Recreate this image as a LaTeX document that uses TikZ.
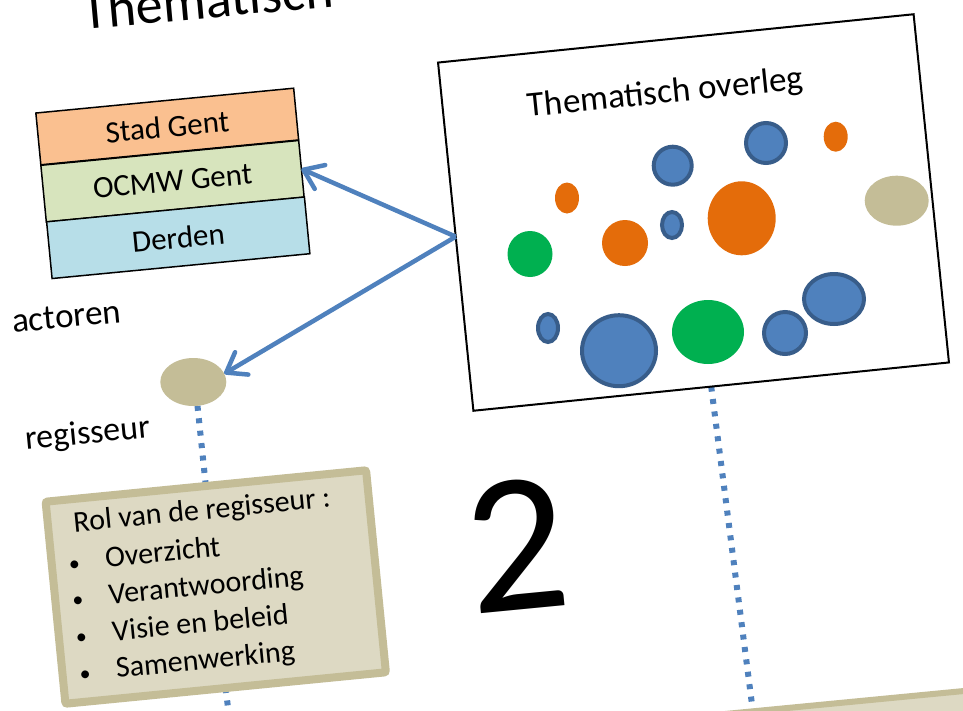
\documentclass[tikz,border=0pt]{standalone}
\usepackage{fontspec}
\setmainfont{Carlito}
\usetikzlibrary{shapes.geometric,arrows.meta,calc}
\pgfdeclarelayer{bg}
\pgfsetlayers{bg,main}
\definecolor{bfill}{HTML}{4F81BD}
\definecolor{bline}{HTML}{385D8A}
\definecolor{orng}{HTML}{E46C0A}
\definecolor{grn}{HTML}{00B050}
\definecolor{beige}{HTML}{C4BD97}
\definecolor{beigelt}{HTML}{DDD9C3}
\definecolor{stadc}{HTML}{FAC090}
\definecolor{ocmwc}{HTML}{D7E4BD}
\definecolor{derdc}{HTML}{B7DEE8}
\newcommand{\myfs}[1]{\fontsize{#1}{#1}\selectfont}
\begin{document}
\begin{tikzpicture}[x=1pt,y=-1pt,
  rowbox/.style={draw=black, line width=1.5pt, rotate=5.5, minimum width=259pt, inner sep=0pt, outer sep=0pt, font=\myfs{31}},
  bluec/.style={fill=bfill, draw=bline, line width=4pt},
  arr/.style={draw=bfill, line width=4.5pt, -{Straight Barb[round,length=18pt,width=26pt]}},
  dotline/.style={draw=bfill, line width=6pt, dash pattern=on 5pt off 7.5pt},
  lbl/.style={anchor=base, inner sep=0pt, outer sep=0pt},
  bul/.style={anchor=base, inner sep=0pt, outer sep=0pt, font=\myfs{22}}]
\begin{pgfonlayer}{bg}
\fill[white] (0,0) rectangle (963,710);
\end{pgfonlayer}
\useasboundingbox (0,0) rectangle (963,710);

% title (cut at top)
\node[anchor=base west, rotate=5.2, font=\myfs{54}, inner sep=0pt] (title) at (83,29.5) {Thematisch};

% stack of actors
\node[rowbox, fill=stadc, minimum height=52pt] (stad) at (167.25,126.5) {Stad Gent};
\node[rowbox, fill=ocmwc, minimum height=57pt] (ocmw) at (172.5,181.25) {OCMW Gent};
\node[rowbox, fill=derdc, minimum height=57pt] (derden) at (178.25,237.75) {Derden};

\node[lbl, rotate=5.5, font=\myfs{35}] (act) at (67.5,327.5) {actoren};
\node[lbl, rotate=5.5, font=\myfs{34}] (regt) at (89,443.5) {regisseur};

% regisseur ellipse
\node[ellipse, fill=beige, minimum width=66pt, minimum height=48pt, inner sep=0pt, outer sep=0pt] (reg) at (193.3,382) {};

% thematic box
\node[draw=black, line width=2pt, rotate=5.8, minimum width=478pt, minimum height=350pt, inner sep=0pt, outer sep=0pt] (thema) at (693.5,212.5) {};
\node[lbl, rotate=5.8, font=\myfs{35}] (ttl) at (666.5,103) {Thematisch overleg};

\filldraw[bluec] (672.7,165.7) circle[radius=19];
\filldraw[bluec] (766,143) circle[radius=20];
\fill[orng] (835.7,136.7) ellipse[x radius=12, y radius=15];
\fill[orng] (567,198) ellipse[x radius=12, y radius=15.5];
\fill[beige] (896.7,200.7) ellipse[x radius=32, y radius=25];
\fill[grn] (530,254) ellipse[x radius=22.5, y radius=23];
\fill[orng] (625,243) circle[radius=23];
\filldraw[bluec] (672,225) ellipse[x radius=10, y radius=13];
\fill[orng] (741.7,218.3) ellipse[x radius=34, y radius=37];
\filldraw[bluec] (548,328) ellipse[x radius=10, y radius=14];
\filldraw[bluec] (619,350.7) ellipse[x radius=37, y radius=35.5];
\fill[grn] (708,332) ellipse[x radius=36, y radius=32];
\filldraw[bluec] (785,333) circle[radius=21];
\filldraw[bluec] (834,299) ellipse[x radius=30, y radius=25];

% role box
\node[draw=beige, fill=beigelt, line width=8pt, rounded corners=2pt, rotate=5.6, minimum width=322pt, minimum height=203pt, inner sep=0pt, outer sep=0pt] (rol) at (215.75,587) {};
\begin{scope}[shift={(215.75,587)}, rotate=5.6, transform shape, font=\myfs{30}]
  \node[anchor=base west, inner sep=0pt] (r0) at (-135.5,-68.5) {Rol van de regisseur :};
  \node[bul] (b1) at (-138.5,-30.2) {•};
  \node[anchor=base west, inner sep=0pt] (r1) at (-107.5,-30.2) {Overzicht};
  \node[bul] (b2) at (-138.5,6.8) {•};
  \node[anchor=base west, inner sep=0pt] (r2) at (-107.5,6.8) {Verantwoording};
  \node[bul] (b3) at (-138.5,43.8) {•};
  \node[anchor=base west, inner sep=0pt] (r3) at (-107.5,43.8) {Visie en beleid};
  \node[bul] (b4) at (-138.5,80.8) {•};
  \node[anchor=base west, inner sep=0pt] (r4) at (-107.5,80.8) {Samenwerking};
\end{scope}

% big number
\node[rotate=5.5, font=\myfs{200}, inner sep=0pt] (two) at (517,545) {2};

% bottom right box (mostly outside)
\node[draw=beige, fill=beigelt, line width=6pt, rotate=5.5, minimum width=400pt, minimum height=200pt, anchor=north west, inner sep=0pt, outer sep=0pt] (box2) at (725,714) {};

\coordinate (d2) at (229,716);

% connectors
\draw[arr] (thema.west) -- (ocmw.east);
\draw[arr] (thema.west) -- (reg.15);
\begin{pgfonlayer}{bg}
\draw[dotline] (reg.-80) -- (rol.north);
\draw[dotline] (rol.south) -- (d2);
\draw[dotline] (thema.south) -- ($(box2.north west)!0.07!(box2.north east)$);
\end{pgfonlayer}
\end{tikzpicture}
\end{document}
